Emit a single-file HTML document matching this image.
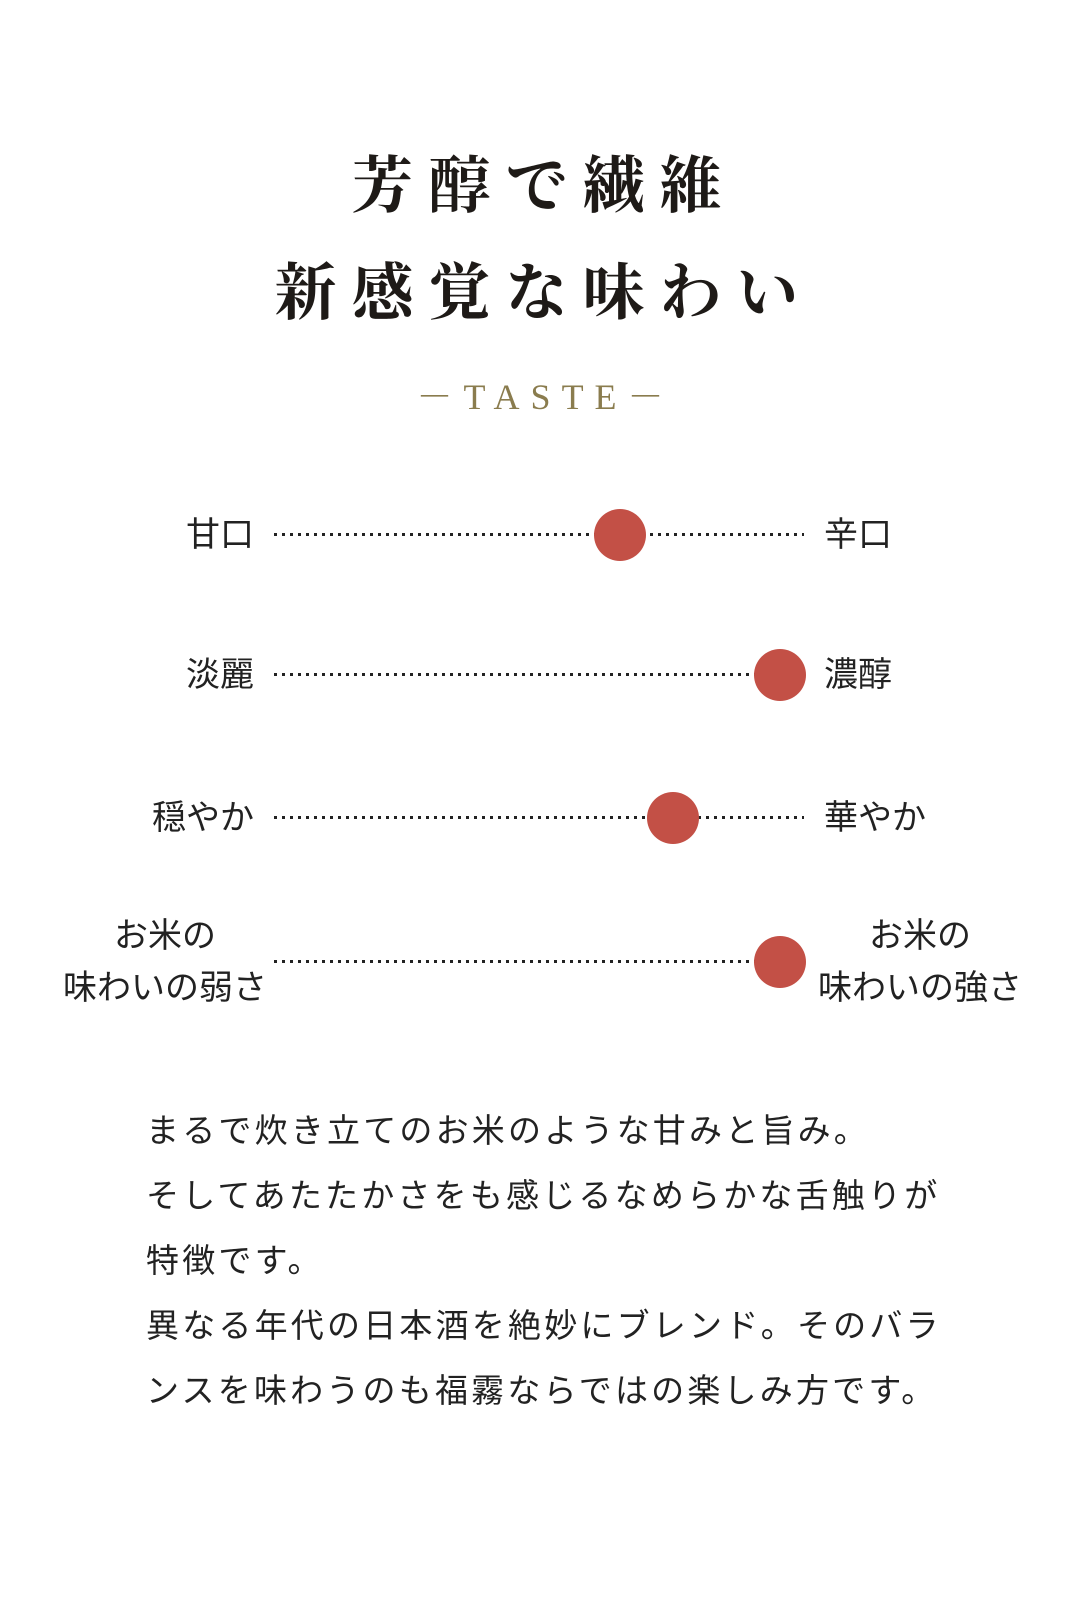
<!DOCTYPE html>
<html><head><meta charset="utf-8"><style>
html,body{margin:0;padding:0;background:#fff;}
body{width:1080px;height:1601px;position:relative;overflow:hidden;font-family:"Liberation Sans","Noto Sans CJK JP",sans-serif;color:#222;}
.t{position:absolute;left:0;width:1080px;text-align:center;font-family:"Liberation Serif","Noto Serif CJK JP",serif;font-weight:700;font-size:62px;letter-spacing:15px;color:#1e1a17;line-height:1;padding-left:8px;box-sizing:border-box;}
.taste{position:absolute;left:0;width:1080px;text-align:center;top:379px;font-family:"Liberation Serif","Noto Serif CJK JP",serif;font-size:36px;letter-spacing:11px;color:#8a7c4e;line-height:1;padding-left:11px;box-sizing:border-box;}
.line{position:absolute;left:274px;width:530px;height:3px;background:repeating-linear-gradient(90deg,#222 0 3px,transparent 3px 8px);}
.dot{position:absolute;width:52px;height:52px;border-radius:50%;background:#c35046;}
.lab{position:absolute;font-size:34px;line-height:1;white-space:nowrap;}
.body{position:absolute;left:146px;top:1098px;font-size:33px;line-height:65px;letter-spacing:3.2px;color:#222;}
</style></head><body>
<div class="t" style="top:156px">芳醇で繊維</div>
<div class="t" style="top:263px">新感覚な味わい</div>
<div class="taste">－TASTE－</div>

<div class="line" style="top:533px"></div>
<div class="dot" style="left:594px;top:509px"></div>
<div class="lab" style="right:826px;top:518px">甘口</div>
<div class="lab" style="left:824px;top:518px">辛口</div>

<div class="line" style="top:673px"></div>
<div class="dot" style="left:754px;top:649px"></div>
<div class="lab" style="right:826px;top:658px">淡麗</div>
<div class="lab" style="left:824px;top:658px">濃醇</div>

<div class="line" style="top:816px"></div>
<div class="dot" style="left:647px;top:792px"></div>
<div class="lab" style="right:826px;top:801px">穏やか</div>
<div class="lab" style="left:824px;top:801px">華やか</div>

<div class="line" style="top:960px"></div>
<div class="dot" style="left:754px;top:936px"></div>
<div class="lab" style="left:45px;width:240px;text-align:center;top:919px">お米の</div>
<div class="lab" style="left:45px;width:240px;text-align:center;top:971px">味わいの弱さ</div>
<div class="lab" style="left:800px;width:240px;text-align:center;top:919px">お米の</div>
<div class="lab" style="left:800px;width:240px;text-align:center;top:971px">味わいの強さ</div>

<div class="body">まるで炊き立てのお米のような甘みと旨み。<br>そしてあたたかさをも感じるなめらかな舌触りが<br>特徴です。<br>異なる年代の日本酒を絶妙にブレンド。そのバラ<br>ンスを味わうのも福霧ならではの楽しみ方です。</div>
</body></html>
